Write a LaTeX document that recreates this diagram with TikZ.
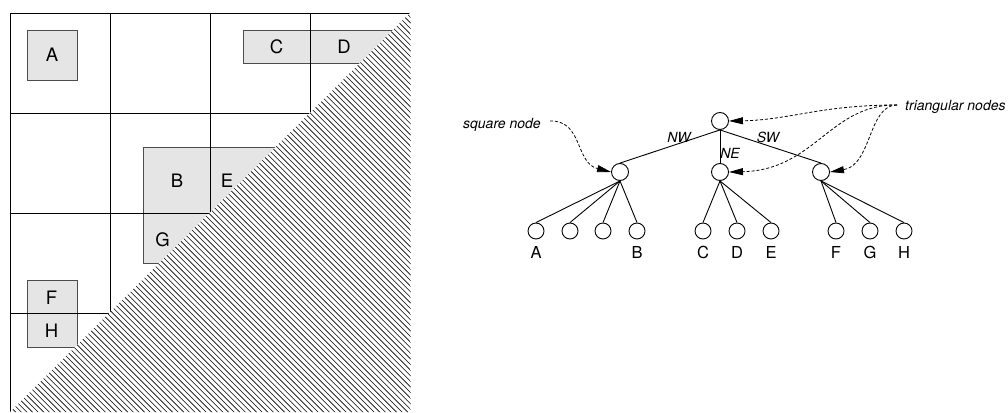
\documentclass[tikz,border=0pt]{standalone}
\usepackage{fontspec}
\setmainfont{TeX Gyre Heros}
\usetikzlibrary{arrows.meta}
\definecolor{cellfill}{gray}{0.9}
\definecolor{cellline}{gray}{0.3}
\tikzset{
  cell/.style={fill=cellfill, draw=cellline, line width=0.9pt},
  gridline/.style={draw=black, line width=0.8pt},
  hatchline/.style={draw=black, line width=0.6pt},
  celllabel/.style={font=\fontsize{18.5}{18.5}\selectfont, inner sep=0pt},
  tnode/.style={circle, draw, line width=0.9pt, fill=white, minimum size=17pt, inner sep=0pt},
  leaf/.style={tnode, minimum size=16pt},
  leaflabel/.style={font=\fontsize{16.5}{16.5}\selectfont, inner sep=0pt},
  edgelabel/.style={font=\fontsize{14}{14}\selectfont\itshape, inner sep=0pt},
  note/.style={font=\fontsize{14}{14}\selectfont\itshape, inner sep=0pt},
  treeedge/.style={line width=0.9pt},
  pointer/.style={dash pattern=on 3pt off 2pt, line width=0.8pt, -{Triangle[length=14pt,width=7pt]}},
}
\begin{document}
\begin{tikzpicture}[x=1pt,y=-1pt]
\useasboundingbox (0,0) rectangle (1008,412);

% ---- quadtree decomposition ----
% occupied cells
\draw[cell] (27,30) rectangle (77,80);
\draw[cell] (243,30) rectangle (400,63);
\draw[cell] (143,147) rectangle (300,213);
\draw[cell] (143,213) rectangle (250,263);
\draw[cell] (27,280) rectangle (77,313);
\draw[cell] (27,313) rectangle (77,347);

% grid
\draw[gridline] (10,412) -- (10,13) -- (410,13);
\foreach \v in {110,210,310} \draw[gridline] (\v,13) -- (\v,412);
\foreach \h in {113,213,313} \draw[gridline] (10,\h) -- (410,\h);

% hatched lower-right half
\fill[white] (10,412) -- (410.5,12.5) -- (410.5,412) -- cycle;
\begin{scope}
  \clip (10,412) -- (410.5,12.5) -- (410.5,412) -- cycle;
  \foreach \i in {0,...,150} \draw[hatchline] ({-402+\i*5.6},0) -- ++(420,420);
\end{scope}

% cell labels
\node[celllabel] (cA) at (52,55) {A};
\node[celllabel] (cC) at (276.5,47) {C};
\node[celllabel] (cD) at (344,47) {D};
\node[celllabel] (cB) at (177,180.5) {B};
\node[celllabel] (cE) at (227,180.5) {E};
\node[celllabel] (cG) at (162.5,239.5) {G};
\node[celllabel] (cF) at (51.5,298) {F};
\node[celllabel] (cH) at (51.5,330.5) {H};

% ---- tree ----
\node[tnode] (root) at (720,121) {};
\node[tnode] (nw) at (620,172) {};
\node[tnode] (ne) at (720,172) {};
\node[tnode] (sw) at (821,172) {};

\node[leaf] (l1) at (536,231) {};
\node[leaf] (l2) at (570,231) {};
\node[leaf] (l3) at (603,231) {};
\node[leaf] (l4) at (637,231) {};
\node[leaf] (l5) at (703,231) {};
\node[leaf] (l6) at (737,231) {};
\node[leaf] (l7) at (771,231) {};
\node[leaf] (l8) at (836,231) {};
\node[leaf] (l9) at (870,231) {};
\node[leaf] (l10) at (904,231) {};

\draw[treeedge] (root.south) -- (nw.north);
\draw[treeedge] (root.south) -- (ne.north);
\draw[treeedge] (root.south) -- (sw.north);
\foreach \c in {l1,l2,l3,l4} \draw[treeedge] (nw.south) -- (\c.north);
\foreach \c in {l5,l6,l7} \draw[treeedge] (ne.south) -- (\c.north);
\foreach \c in {l8,l9,l10} \draw[treeedge] (sw.south) -- (\c.north);

\node[edgelabel] (tNW) at (679,137) {NW};
\node[edgelabel] (tNE) at (730,153) {NE};
\node[edgelabel] (tSW) at (768,137) {SW};

\node[leaflabel] (nA) at (536,252) {A};
\node[leaflabel] (nB) at (637,252) {B};
\node[leaflabel] (nC) at (703,252) {C};
\node[leaflabel] (nD) at (737,252) {D};
\node[leaflabel] (nE) at (771,252) {E};
\node[leaflabel] (nF) at (836,252) {F};
\node[leaflabel] (nG) at (870,252) {G};
\node[leaflabel] (nH) at (904,252) {H};

% annotations
\node[note, anchor=base west] (sq) at (463,128) {square node};
\node[note, anchor=base west] (tri) at (905,110) {triangular nodes};
\coordinate (sqstart) at (550,121);
\coordinate (tristart) at (897,105);
\draw[pointer] (sqstart) .. controls (583,120) and (575,163) .. (nw.west);
\draw[pointer] (tristart) .. controls (820,105) and (790,120) .. (root.east);
\draw[pointer] (tristart) .. controls (830,104) and (815,170) .. (ne.east);
\draw[pointer] (tristart) .. controls (868,105) and (872,165) .. (sw.east);
\end{tikzpicture}
\end{document}
